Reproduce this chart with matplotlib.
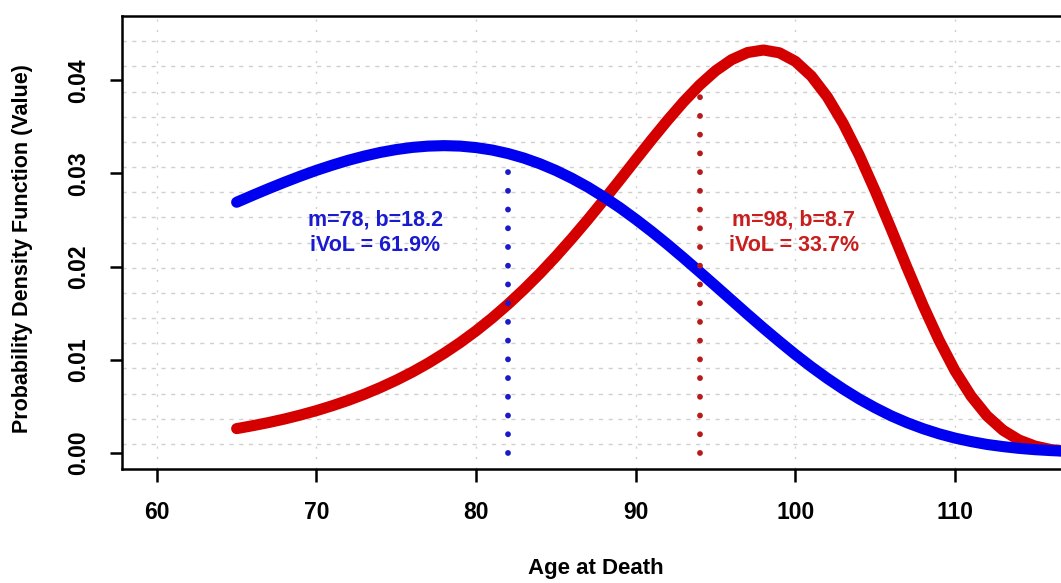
import numpy as np
import matplotlib
matplotlib.use("Agg")
import matplotlib.pyplot as plt

plt.rcParams['font.family'] = ['Liberation Sans', 'DejaVu Sans']

# ages and density values
ages = list(range(65, 118))
blue_pdf = [0.02690, 0.02764, 0.02836, 0.02905, 0.02971, 0.03033, 0.03089, 0.03141,
            0.03186, 0.03225, 0.03256, 0.03279, 0.03293, 0.03298, 0.03293, 0.03277,
            0.03251, 0.03213, 0.03164, 0.03103, 0.03031, 0.02947, 0.02853, 0.02747,
            0.02632, 0.02507, 0.02375, 0.02236, 0.02091, 0.01942, 0.01791, 0.01639,
            0.01487, 0.01338, 0.01194, 0.01054, 0.00922, 0.00798, 0.00683, 0.00577,
            0.00482, 0.00396, 0.00322, 0.00258, 0.00203, 0.00157, 0.00120, 0.00089,
            0.00066, 0.00047, 0.00033, 0.00023, 0.00015]
red_pdf = [0.00259, 0.00290, 0.00324, 0.00362, 0.00405, 0.00452, 0.00505, 0.00563,
           0.00628, 0.00700, 0.00779, 0.00866, 0.00962, 0.01068, 0.01183, 0.01309,
           0.01446, 0.01595, 0.01755, 0.01926, 0.02109, 0.02302, 0.02504, 0.02714,
           0.02929, 0.03147, 0.03363, 0.03572, 0.03770, 0.03949, 0.04102, 0.04221,
           0.04298, 0.04325, 0.04295, 0.04203, 0.04045, 0.03821, 0.03534, 0.03194,
           0.02810, 0.02401, 0.01984, 0.01580, 0.01207, 0.00879, 0.00609, 0.00396,
           0.00242, 0.00137, 0.00072, 0.00034, 0.00015]

blue_cut, blue_cut_val = 82, 0.0314
red_cut, red_cut_val = 94, 0.0388
blue_label = "m=78, b=18.2\niVoL = 61.9%"
red_label = "m=98, b=8.7\niVoL = 33.7%"
blue_label_pos = (73.7, 0.0236)
red_label_pos = (99.9, 0.0236)

xticks = [60, 70, 80, 90, 100, 110]
yticks = [0.00, 0.01, 0.02, 0.03, 0.04]
xlim = (57.8, 117.2)
ylim = (-0.00175, 0.0469)

fig = plt.figure(figsize=(10.61, 5.83), dpi=100)
ax = fig.add_axes([0.1147, 0.1955, 0.8938, 0.777])

# grid like R's grid(): dotted verticals at ticks, 18 horizontal bands
for xv in xticks:
    ax.axvline(xv, color='#d0d0d0', lw=1.0, ls=(0, (1.5, 6)), zorder=0)
for yv in np.linspace(ylim[0], ylim[1], 19)[1:-1]:
    ax.axhline(yv, color='#d0d0d0', lw=1.0, ls=(0, (3, 4)), zorder=0)

ax.plot(ages, blue_pdf, color='#0000f0', lw=8, solid_capstyle='round',
        solid_joinstyle='round', zorder=3)
ax.plot(ages, red_pdf, color='#d40000', lw=8, solid_capstyle='round',
        solid_joinstyle='round', zorder=2)

ax.plot([blue_cut, blue_cut], [0, blue_cut_val], color='#1a1ac8', lw=4.2,
        ls=(0, (0.01, 3.2)), dash_capstyle='round', zorder=4)
ax.plot([red_cut, red_cut], [0, red_cut_val], color='#b81a1a', lw=4.2,
        ls=(0, (0.01, 3.2)), dash_capstyle='round', zorder=4)

ax.text(*blue_label_pos, blue_label, color='#1a1ad0', fontsize=15.5,
        fontweight='bold', ha='center', va='center', linespacing=1.25)
ax.text(*red_label_pos, red_label, color='#c81e1e', fontsize=15.5,
        fontweight='bold', ha='center', va='center', linespacing=1.25)

ax.set_xlim(*xlim)
ax.set_ylim(*ylim)
ax.set_xticks(xticks)
ax.set_yticks(yticks)
ax.set_xticklabels([str(v) for v in xticks], fontsize=16.5, fontweight='bold')
ax.set_yticklabels(['%.2f' % v for v in yticks], fontsize=16.5, fontweight='bold',
                   rotation=90, va='center')
ax.tick_params(axis='both', direction='out', length=9, width=1.8, pad=14)
for sp in ax.spines.values():
    sp.set_linewidth(1.8)

fig.text(0.5617, 0.025, 'Age at Death', fontsize=16, fontweight='bold',
         ha='center', va='center')
fig.text(0.021, 0.574, 'Probability Density Function (Value)', fontsize=15.5,
         fontweight='bold', rotation=90, ha='center', va='center')

fig.savefig('out.png', dpi=100)
